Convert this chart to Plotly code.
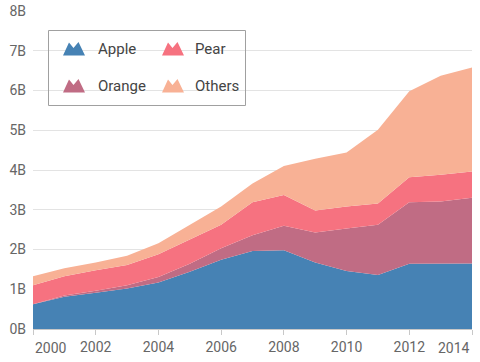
import plotly.graph_objects as go

years = list(range(2000, 2015))
apple  = [0.62, 0.81, 0.91, 1.02, 1.17, 1.44, 1.74, 1.96, 1.98, 1.67, 1.46, 1.36, 1.64, 1.65, 1.65]
orange = [0.00, 0.03, 0.05, 0.08, 0.14, 0.20, 0.29, 0.40, 0.62, 0.76, 1.07, 1.26, 1.55, 1.56, 1.65]
pear   = [0.48, 0.49, 0.52, 0.51, 0.57, 0.62, 0.59, 0.83, 0.77, 0.55, 0.55, 0.54, 0.63, 0.67, 0.66]
others = [0.23, 0.20, 0.19, 0.23, 0.28, 0.36, 0.46, 0.47, 0.73, 1.30, 1.36, 1.85, 2.16, 2.49, 2.62]

series_names = ["Apple", "Orange", "Pear", "Others"]
series_values = [apple, orange, pear, others]
colors = ["#4682B4", "#C06C84", "#F67280", "#F8B195"]

x_ticks = [2000, 2002, 2004, 2006, 2008, 2010, 2012, 2014]
y_ticks = [0, 1, 2, 3, 4, 5, 6, 7, 8]

W, H = 480, 362
L, R, T, B = 33, 8, 11, 33
pw, ph = W - L - R, H - T - B

def px(x):
    return (x - L) / pw

def py(y):
    return (H - B - y) / ph

fig = go.Figure()
for name, vals, col in zip(series_names, series_values, colors):
    fig.add_trace(go.Scatter(
        x=years, y=vals, name=name, stackgroup="one", mode="lines",
        line=dict(width=0, color=col), fillcolor=col, hoverinfo="skip",
        showlegend=False,
    ))

font = "Roboto, 'Open Sans', sans-serif"
axis_col = "#666666"

fig.update_layout(
    width=W, height=H,
    margin=dict(l=L, r=R, t=T, b=B, pad=0, autoexpand=False),
    plot_bgcolor="white", paper_bgcolor="white",
    font=dict(family=font, size=14, color=axis_col),
    showlegend=False,
)
fig.update_xaxes(
    range=[2000, 2014], tickvals=x_ticks,
    ticktext=["" if v in (x_ticks[0], x_ticks[-1]) else str(v) for v in x_ticks],
    showgrid=False, zeroline=False, automargin=False,
    showline=True, linecolor="#c8c8c8", linewidth=1,
    ticks="outside", ticklen=5, tickcolor="#c8c8c8",
    tickfont=dict(size=14, color=axis_col),
)
fig.update_yaxes(
    range=[0, 8], tickvals=y_ticks, ticktext=[f"{v}B" for v in y_ticks],
    showgrid=True, gridcolor="#e3e3e3", gridwidth=1, zeroline=False, automargin=False,
    showline=False, ticks="", ticklabelstandoff=6,
    tickfont=dict(size=14, color=axis_col),
)

annotations = []
annotations.append(dict(x=px(33), y=py(348), xref="paper", yref="paper", text=str(x_ticks[0]),
                        xanchor="left", yanchor="middle", showarrow=False,
                        font=dict(size=14, color=axis_col, family=font)))
annotations.append(dict(x=px(472), y=py(348), xref="paper", yref="paper", text=str(x_ticks[-1]),
                        xanchor="right", yanchor="middle", showarrow=False,
                        font=dict(size=14, color=axis_col, family=font)))

shapes = []
shapes.append(dict(type="rect", xref="paper", yref="paper",
                   x0=px(48.5), x1=px(245.5), y0=py(30.5), y1=py(105.5),
                   line=dict(color="#a0a0a0", width=1), fillcolor="rgba(255,255,255,0)", layer="above"))

legend_layout = [  # (series index, icon left px, row center px, text left px)
    (0, 63, 49, 96),
    (2, 162, 49, 193),
    (1, 63, 86, 96),
    (3, 162, 86, 193),
]

def mountain(x0, yc):
    yb = yc + 6.5
    yt = yc - 6.5
    pts = [(x0, yb), (x0 + 6, yt), (x0 + 10.5, yc - 1), (x0 + 15.5, yt - 0.5), (x0 + 22, yb)]
    return "M " + " L ".join(f"{px(a):.5f},{py(b):.5f}" for a, b in pts) + " Z"

for idx, ix, yc, tx in legend_layout:
    shapes.append(dict(type="path", xref="paper", yref="paper", path=mountain(ix, yc),
                       line=dict(width=0), fillcolor=colors[idx], layer="above"))
    annotations.append(dict(x=px(tx), y=py(yc), xref="paper", yref="paper",
                            text=series_names[idx], xanchor="left", yanchor="middle",
                            showarrow=False, font=dict(size=15, color="#444444", family=font)))

fig.update_layout(shapes=shapes, annotations=annotations)
fig.write_html("out.html", config={"displayModeBar": False},
               post_script="document.body.style.margin='0';")
